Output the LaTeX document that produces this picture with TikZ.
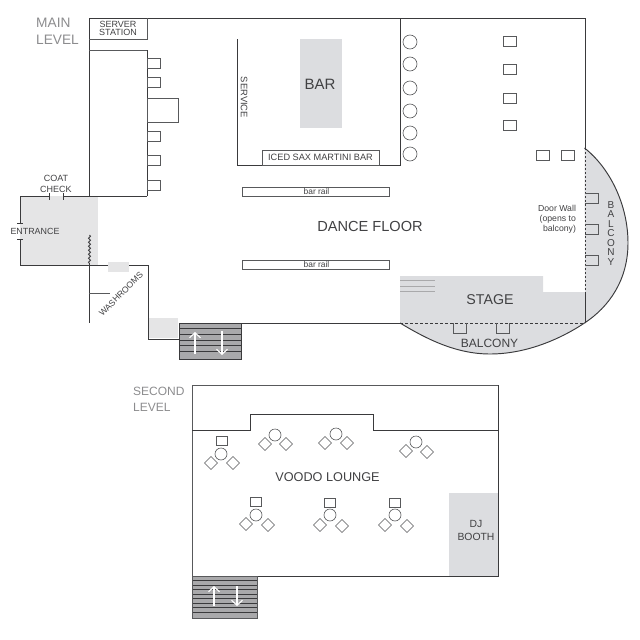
\documentclass[tikz,border=0pt]{standalone}
\usepackage{fontspec}
\setmainfont{Liberation Sans}
\usetikzlibrary{decorations.pathmorphing,arrows.meta}
\definecolor{wallc}{HTML}{3A3A3C}
\definecolor{thinc}{HTML}{58595B}
\definecolor{txtc}{HTML}{414143}
\definecolor{lvlc}{HTML}{8C8C8E}
\definecolor{graya}{HTML}{DCDDE0}
\definecolor{grayb}{HTML}{E5E5E6}
\definecolor{stairc}{HTML}{A9A9AB}
\tikzset{
  x=1pt,y=-1pt,
  wall/.style={draw=wallc,line width=0.95pt},
  thin wall/.style={draw=thinc,line width=0.7pt},
  furn/.style={draw=thinc,line width=0.6pt,fill=white},
  lbl/.style 2 args={text=txtc,inner sep=0pt,align=center,font=\fontsize{#1}{#2}\selectfont},
  lvl/.style 2 args={text=lvlc,inner sep=0pt,align=left,anchor=north west,font=\fontsize{#1}{#2}\selectfont},
  updown/.style={draw=white,line width=1.1pt,-{Straight Barb[length=5pt,width=11pt,line width=1.1pt]}},
}
\newcommand{\seat}[2]{\draw[furn] (#1-6.5,#2) -- (#1,#2-6.5) -- (#1+6.5,#2) -- (#1,#2+6.5) -- cycle;}
\newcommand{\tablegroup}[6]{%
  \draw[furn] (#1,#2) circle[radius=6];
  \seat{#3}{#4}\seat{#5}{#6}}
\newcommand{\balconyedge}{(584.5,148) .. controls (610,168) and (628,205) .. (628,243) .. controls (628,280) and (609,307) .. (584.5,323) .. controls (559,340) and (525,354) .. (490,354) .. controls (455,354) and (425,338) .. (400,323)}
\begin{document}
\begin{tikzpicture}
\useasboundingbox (0,0) rectangle (640,640);
% ---- grey areas
\fill[graya] \balconyedge -- (400,276) -- (543,276) -- (543,292) -- (585,292) -- cycle;
\fill[grayb] (20,196) rectangle (98,265);
\fill[grayb] (108,262) rectangle (129,272);
\fill[grayb] (149,318) rectangle (178,338);
\fill[graya] (300,39) rectangle (342,128);
\fill[graya] (449,493) rectangle (498,576);
% ---- balcony edge
\draw[wall] \balconyedge;
% ---- stage steps
\draw[draw=stairc,line width=1pt] (400,280) -- (435,280) (400,286) -- (435,286) (400,291) -- (435,291);
% ---- main level walls
\draw[wall] (585,148) -- (585,18) -- (89,18) -- (89,196);
\draw[thin wall] (89,39) -- (147,39) -- (147,18);
\draw[thin wall] (89,50) -- (147,50);
\draw[wall] (147,50) -- (147,196);
\draw[wall] (63,196) -- (147,196) (20,196) -- (49,196);
\draw[wall] (49,193) -- (49,200) (63,193) -- (63,200);
\draw[wall] (20,196) -- (20,223) (20,239) -- (20,265) -- (108,265);
\draw[wall] (17,223) -- (23,223) (17,239) -- (23,239);
\draw[wall] (129,265) -- (148,265) -- (148,339) -- (179,339);
\draw[wall] (89,265) -- (89,323);
\draw[thin wall] (89,293) -- (110,293);
\draw[draw=wallc,line width=0.9pt,decorate,decoration={snake,amplitude=1pt,segment length=4pt}] (89.5,235) -- (89.5,265);
\draw[wall] (241,323) -- (400,323);
\draw[wall] (585,292) -- (585,323);
\draw[draw=wallc,line width=1pt,dash pattern=on 2pt off 2pt] (585,148) -- (585,292);
\draw[draw=wallc,line width=1pt,dash pattern=on 3pt off 2pt] (400,323) -- (585,323);
% ---- bar
\draw[wall] (237,39) -- (237,165) -- (400,165) -- (400,18);
\node[furn,minimum width=117pt,minimum height=15pt,inner sep=0pt,outer sep=0pt,anchor=north west] (iced) at (262,150) {};
\node[lbl={9.2}{11}] (icedtxt) at (iced.center) {ICED SAX MARTINI BAR};
\foreach \y in {42,64,88,111,133,154}{\draw[furn] (410,\y) circle[radius=7];}
\foreach \y in {58,77,131,155,180}{\draw[furn] (147,\y) rectangle (160,\y+10);}
\draw[furn] (147,98) rectangle (178,122);
\foreach \y in {36,64,93,120}{\draw[furn] (503,\y) rectangle (516,\y+10);}
\draw[furn] (536,150) rectangle (549,160);
\draw[furn] (561,150) rectangle (574,160);
\foreach \y in {193,224,255}{\draw[thin wall,fill=none] (585,\y) -- (598,\y) -- (598,\y+10) -- (585,\y+10);}
\foreach \x in {453,496}{\draw[thin wall,fill=none] (\x,323) -- (\x,333) -- (\x+13,333) -- (\x+13,323);}
\draw[furn] (242,187) rectangle (389,196);
\draw[furn] (242,260) rectangle (389,269);
% ---- lower stairs, main
\fill[stairc] (179,323) rectangle (241,359);
\foreach \y in {328,334,340,345,351}{\draw[draw=wallc,line width=0.6pt] (179,\y) -- (241,\y);}
\draw[wall] (179,323) rectangle (241,359);
\draw[updown] (195,354) -- (195,332);
\draw[updown] (222,331) -- (222,355);
% ---- second level
\draw[draw=thinc,line width=1pt] (192,576) -- (192,385) -- (498,385);
\draw[wall] (498,385) -- (498,576) -- (257,576);
\draw[wall] (192,430) -- (250,430) -- (250,414) -- (373,414) -- (373,430) -- (498,430);
\fill[stairc] (192,576) rectangle (257,618);
\foreach \y in {580,585,589,594,598,603,607,612}{\draw[draw=wallc,line width=0.5pt] (192,\y) -- (257,\y);}
\draw[draw=thinc,line width=0.8pt] (192,576) rectangle (257,618);
\draw[updown] (214,606) -- (214,586);
\draw[updown] (237,586) -- (237,606);
% ---- lounge tables
\tablegroup{221}{454}{211}{463}{233}{463}
\tablegroup{275}{435}{265}{444}{286}{444}
\tablegroup{336}{434}{325}{443}{347}{443}
\tablegroup{416}{442}{406}{451}{427}{452}
\tablegroup{256}{515}{246}{524}{268}{525}
\tablegroup{330}{515}{320}{525}{342}{526}
\tablegroup{395}{515}{385}{525}{407}{526}
\foreach \x/\y in {222/441,256/502,330/503,395/503}{\draw[furn] (\x-5.25,\y-4.5) rectangle (\x+5.25,\y+4.5);}
% ---- labels
\node[lvl={13.7}{17}] (mainlvl) at (36,18) {MAIN\\LEVEL};
\node[lvl={12}{15.5}] (secondlvl) at (133,387) {SECOND\\LEVEL};
\node[lbl={9}{7.8}] (server) at (118,28.5) {SERVER\\STATION};
\node[lbl={9.4}{11},rotate=-90] (service) at (244,97.5) {SERVICE};
\node[lbl={15}{17}] (bar) at (320,84) {BAR};
\node[lbl={8.4}{10}] (rail1) at (316.5,191.5) {bar rail};
\node[lbl={8.4}{10}] (rail2) at (316.5,264.5) {bar rail};
\node[lbl={14.6}{17}] (dance) at (370,226) {DANCE FLOOR};
\node[lbl={9}{10.5}] (coat) at (56,184) {COAT\\CHECK};
\node[lbl={8.9}{10}] (ent) at (35,231.5) {ENTRANCE};
\node[lbl={8.6}{10},rotate=45] (wash) at (121,294) {WASHROOMS};
\node[lbl={8.7}{10},align=right] (doorw) at (557,219) {Door Wall\\(opens to\\balcony)};
\node[lbl={10}{9.5}] (balc1) at (611,233.5) {B\\A\\L\\C\\O\\N\\Y};
\node[lbl={14.2}{16}] (stage) at (490,300) {STAGE};
\node[lbl={12}{14}] (balc2) at (489.5,343) {BALCONY};
\node[lbl={12.7}{15}] (voodo) at (327.5,477) {VOODO LOUNGE};
\node[lbl={10.4}{13}] (dj) at (476,530) {DJ\\BOOTH};
\end{tikzpicture}
\end{document}
